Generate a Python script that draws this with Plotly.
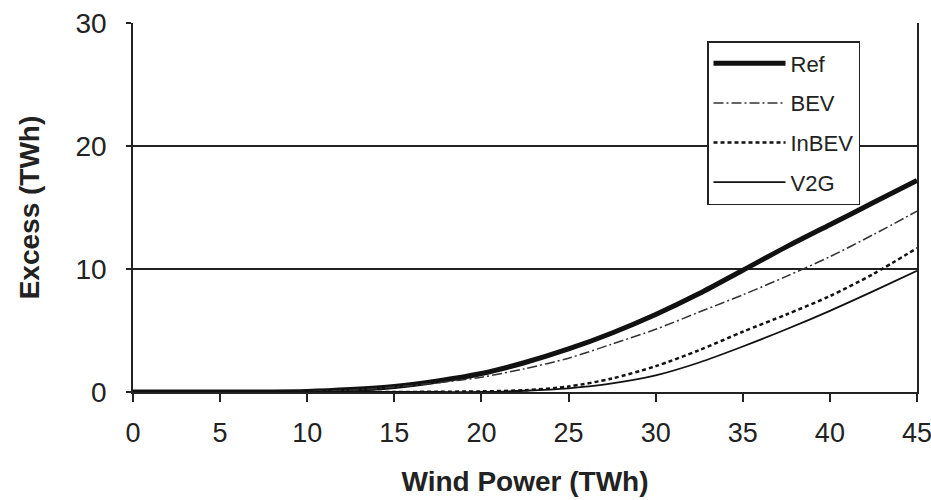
import plotly.graph_objects as go

wind = [0, 5, 10, 12.5, 15, 17.5, 20, 22.5, 25, 27.5, 30, 32.5, 35, 37.5, 40, 42.5, 45]
ref = [0, 0, 0.05, 0.2, 0.45, 0.9, 1.5, 2.4, 3.5, 4.8, 6.3, 8.0, 9.9, 11.8, 13.6, 15.4, 17.2]
bev = [0, 0, 0.05, 0.15, 0.4, 0.75, 1.2, 1.9, 2.75, 3.9, 5.1, 6.5, 7.9, 9.4, 11.0, 12.8, 14.7]
inbev = [0, 0, 0, 0, 0, 0.02, 0.05, 0.15, 0.45, 1.1, 2.1, 3.4, 4.9, 6.3, 7.8, 9.6, 11.7]
v2g = [0, 0, 0, 0, 0, 0, 0, 0.1, 0.3, 0.7, 1.35, 2.4, 3.7, 5.1, 6.6, 8.2, 9.85]

x_ticks = [0, 5, 10, 15, 20, 25, 30, 35, 40, 45]
y_ticks = [0, 10, 20, 30]

FONT = "Liberation Sans, Arial, sans-serif"
INK = "#222222"

fig = go.Figure()
series = [
    ("Ref", ref, dict(color="#111111", width=5, dash="solid")),
    ("BEV", bev, dict(color="#333333", width=1.5, dash="10px,3px,2px,3px")),
    ("InBEV", inbev, dict(color="#111111", width=2.5, dash="4px,3px")),
    ("V2G", v2g, dict(color="#111111", width=1.8, dash="solid")),
]
for name, ys, line in series:
    fig.add_trace(go.Scatter(x=wind, y=ys, mode="lines", name=name, line=line,
                             line_shape="spline", line_smoothing=0.8, legendgroup=name,
                             cliponaxis=True))

fig.update_layout(
    width=931, height=500,
    margin=dict(l=133, r=14, t=23, b=108),
    paper_bgcolor="white", plot_bgcolor="white",
    font=dict(family=FONT, color=INK),
    showlegend=True,
    legend=dict(
        x=(707 - 133) / 784, y=(392 - 41) / 369, xanchor="left", yanchor="top",
        bgcolor="white", bordercolor=INK, borderwidth=1.5,
        font=dict(size=22, family=FONT, color=INK),
        itemwidth=72, tracegroupgap=8,
    ),
    xaxis=dict(
        range=[0, 45.0001], tickvals=x_ticks, ticktext=[str(v) for v in x_ticks],
        showgrid=False, zeroline=False, automargin=False,
        showline=True, linecolor=INK, linewidth=1.5,
        ticks="outside", ticklen=8, tickwidth=1.5, tickcolor=INK,
        tickfont=dict(size=27, family=FONT, color=INK),
        ticklabelstandoff=8, ticklabeloverflow="allow",
        title=dict(text="<b>Wind Power (TWh)</b>", font=dict(size=28, family=FONT, color=INK), standoff=24),
    ),
    yaxis=dict(
        range=[0, 30], tickvals=y_ticks, ticktext=[str(v) for v in y_ticks],
        showgrid=True, gridcolor=INK, gridwidth=1.5,
        zeroline=False, automargin=False,
        showline=True, linecolor=INK, linewidth=1.5, mirror=True,
        ticks="outside", ticklen=5, tickwidth=1.5, tickcolor=INK,
        tickfont=dict(size=28, family=FONT, color=INK),
        ticklabelstandoff=14, ticklabeloverflow="allow",
        title=dict(text="<b>Excess (TWh)</b>", font=dict(size=28, family=FONT, color=INK), standoff=28),
    ),
)

fig.write_html("out.html", config={"displayModeBar": False},
               post_script="document.body.style.margin='0';document.body.style.overflow='hidden';")
